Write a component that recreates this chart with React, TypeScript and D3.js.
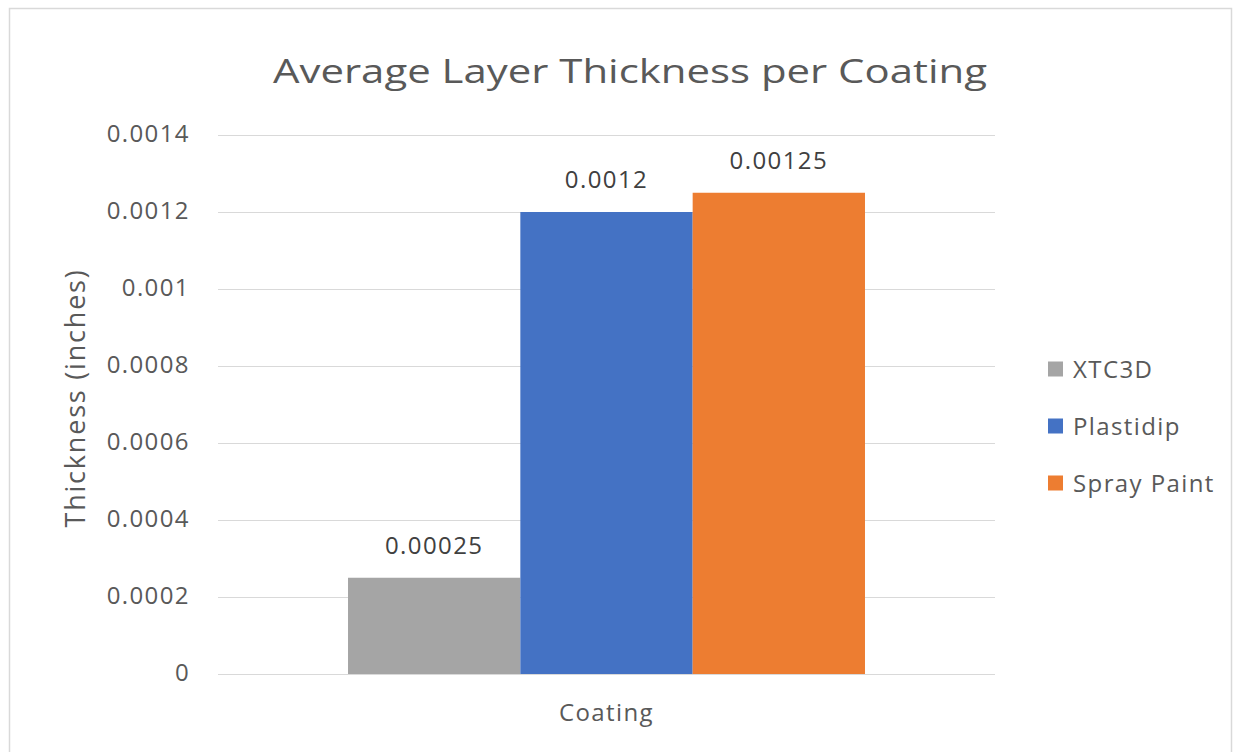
import React from "react";
import * as d3 from "d3";

const categories = ["Coating"];
const seriesNames = ["XTC3D", "Plastidip", "Spray Paint"];
const seriesColors = ["#A5A5A5", "#4472C4", "#ED7D31"];
const seriesValues = [0.00025, 0.0012, 0.00125];
const valueLabels = ["0.00025", "0.0012", "0.00125"];
const yTicks = [0, 0.0002, 0.0004, 0.0006, 0.0008, 0.001, 0.0012, 0.0014];
const yTickLabels = ["0", "0.0002", "0.0004", "0.0006", "0.0008", "0.001", "0.0012", "0.0014"];

const W = 1243;
const H = 752;
const FONT = "'Open Sans', 'Noto Sans', sans-serif";
const TXT = "#595959";
const LS = 1.4;

export default function App() {
  const left = 218, right = 995, top = 135, bottom = 674;
  const y = d3.scaleLinear().domain([0, 0.0014]).range([bottom, top]);
  const x0 = d3.scaleBand().domain(categories).range([left, right]).paddingInner(0).paddingOuter(0.2515);
  const x1 = d3.scaleBand().domain(seriesNames).range([0, x0.bandwidth()]).padding(0);
  const cx = (x0(categories[0]) ?? 0) + x0.bandwidth() / 2;

  return (
    <svg width={W} height={H} style={{ position: "absolute", left: 0, top: 0, display: "block" }}>
      <rect x={0} y={0} width={W} height={H} fill="#ffffff" />
      <rect x={9.5} y={8.5} width={1222} height={760} fill="#ffffff" stroke="#D9D9D9" strokeWidth={1.5} />
      <text x={630} y={83} textAnchor="middle" fontFamily={FONT} fontSize={32} fill={TXT} textLength={714} lengthAdjust="spacingAndGlyphs">
        Average Layer Thickness per Coating
      </text>
      {yTicks.map((t, i) => (
        <g key={i}>
          <line x1={left} x2={right} y1={Math.round(y(t)) + 0.5} y2={Math.round(y(t)) + 0.5} stroke="#D9D9D9" strokeWidth={1} />
          <text x={190} y={y(t) + 7} textAnchor="end" fontFamily={FONT} fontSize={24} letterSpacing={LS} fill={TXT}>
            {yTickLabels[i]}
          </text>
        </g>
      ))}
      {seriesNames.map((s, i) => {
        const bx = (x0(categories[0]) ?? 0) + (x1(s) ?? 0);
        const by = y(seriesValues[i]);
        return (
          <g key={s}>
            <rect x={bx} y={by} width={x1.bandwidth()} height={y(0) - by} fill={seriesColors[i]} />
            <text x={bx + x1.bandwidth() / 2} y={by - 24} textAnchor="middle" fontFamily={FONT} fontSize={24} letterSpacing={LS} fill="#404040">
              {valueLabels[i]}
            </text>
          </g>
        );
      })}
      <text x={cx} y={721} textAnchor="middle" fontFamily={FONT} fontSize={24} letterSpacing={LS} fill={TXT}>
        {categories[0]}
      </text>
      <text transform={`translate(76, 398) rotate(-90)`} textAnchor="middle" dy="0.35em" fontFamily={FONT} fontSize={27} letterSpacing={1.8} fill={TXT}>
        Thickness (inches)
      </text>
      {seriesNames.map((s, i) => (
        <g key={s} transform={`translate(1048, ${369 + i * 57})`}>
          <rect x={0} y={-7.5} width={15} height={15} fill={seriesColors[i]} />
          <text x={25} y={0} dy="0.36em" fontFamily={FONT} fontSize={24} letterSpacing={LS} fill={TXT}>
            {s}
          </text>
        </g>
      ))}
    </svg>
  );
}
